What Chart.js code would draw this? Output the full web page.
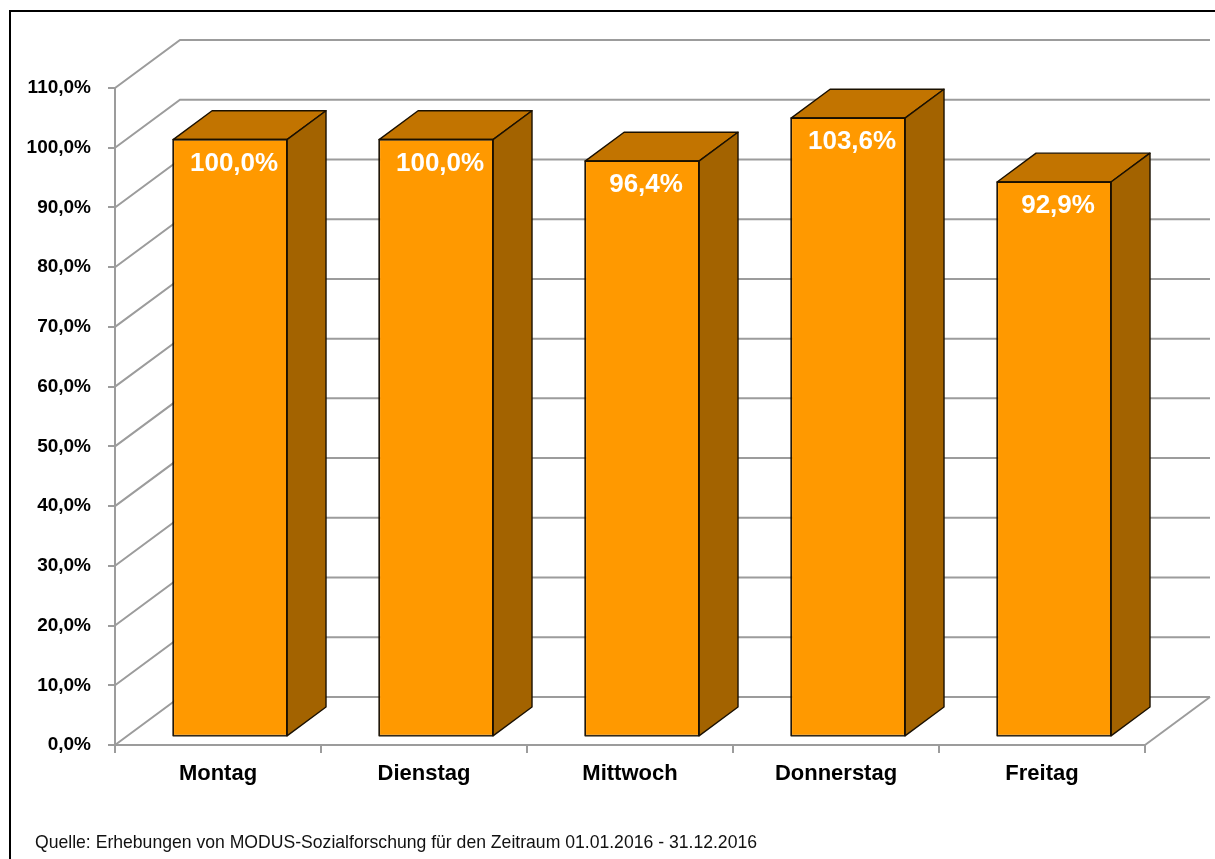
<!DOCTYPE html>
<html>
<head>
<meta charset="utf-8">
<script src="https://cdn.jsdelivr.net/npm/chart.js@4/dist/chart.umd.min.js"></script>
<style>
  html, body { margin: 0; padding: 0; background: #fff; overflow: hidden; }
  #wrap { position: relative; width: 1215px; height: 859px; }
  #frame { position: absolute; left: 9px; top: 10px; width: 1230px; height: 900px; border: 2px solid #000; }
  #chart { position: absolute; left: 0; top: 0; }
  #source { position: absolute; left: 35px; top: 831px; font-family: "Liberation Sans", Arial, sans-serif;
            font-size: 19px; color: #111; white-space: nowrap; transform-origin: 0 0; }
</style>
</head>
<body>
<div id="wrap">
  <div id="frame"></div>
  <canvas id="chart" width="1215" height="859"></canvas>
  <div id="source">Quelle: Erhebungen von MODUS-Sozialforschung für den Zeitraum 01.01.2016 - 31.12.2016</div>
</div>
<script>
// data
var days = ["Montag", "Dienstag", "Mittwoch", "Donnerstag", "Freitag"];
var shares = [100.0, 100.0, 96.4, 103.6, 92.9];
var yMax = 110;
var yStep = 10;

// 3d look
var depthX = 65, depthY = -48;      // wall depth
var barFrom = 0.17, barTo = 0.77;   // bars sit in the middle of the depth
var gridColor = "#9c9c9c";

function pct(v) {
    return v.toFixed(1).replace(".", ",") + "%";
}

// squeeze the footer so it spans like the original
(function () {
    var el = document.getElementById("source");
    var w = el.getBoundingClientRect().width;
    el.style.transform = "scaleX(" + (722 / w) + ")";
})();

var wallPlugin = {
    id: "wall",
    beforeDatasetsDraw: function (chart) {
        var ctx = chart.ctx;
        var yScale = chart.scales.y;
        var area = chart.chartArea;
        ctx.save();
        ctx.strokeStyle = gridColor;
        ctx.lineWidth = 2;
        for (var v = 0; v <= yMax; v += yStep) {
            var y = yScale.getPixelForValue(v);
            ctx.beginPath();
            ctx.moveTo(area.left, y);
            ctx.lineTo(area.left + depthX, y + depthY);
            ctx.lineTo(area.right + depthX, y + depthY);
            ctx.stroke();
        }
        // floor right edge
        var y0 = yScale.getPixelForValue(0);
        ctx.beginPath();
        ctx.moveTo(area.right, y0);
        ctx.lineTo(area.right + depthX, y0 + depthY);
        ctx.stroke();
        ctx.restore();

        // move the bars into the depth
        ctx.save();
        ctx.translate(depthX * barFrom + 1, depthY * barFrom);
    },
    afterDatasetsDraw: function (chart) {
        var ctx = chart.ctx;
        var bx = depthX * (barTo - barFrom), by = depthY * (barTo - barFrom);
        var bars = chart.getDatasetMeta(0).data;
        ctx.lineWidth = 1.4;
        ctx.strokeStyle = "#1a1000";
        ctx.lineJoin = "round";
        for (var i = 0; i < bars.length; i++) {
            var b = bars[i].getProps(["x", "y", "base", "width"], true);
            var l = b.x - b.width / 2, r = b.x + b.width / 2;
            // top
            ctx.beginPath();
            ctx.moveTo(l, b.y);
            ctx.lineTo(l + bx, b.y + by);
            ctx.lineTo(r + bx, b.y + by);
            ctx.lineTo(r, b.y);
            ctx.closePath();
            ctx.fillStyle = "#c27400";
            ctx.fill();
            ctx.stroke();
            // side
            ctx.beginPath();
            ctx.moveTo(r, b.y);
            ctx.lineTo(r + bx, b.y + by);
            ctx.lineTo(r + bx, b.base + by);
            ctx.lineTo(r, b.base);
            ctx.closePath();
            ctx.fillStyle = "#a36300";
            ctx.fill();
            ctx.stroke();
            // front outline again so it stays crisp
            ctx.strokeRect(l, b.y, b.width, b.base - b.y);
            // value label
            ctx.fillStyle = "#ffffff";
            ctx.font = "bold 26px 'Liberation Sans', Arial, sans-serif";
            ctx.textAlign = "center";
            ctx.textBaseline = "alphabetic";
            ctx.fillText(pct(shares[i]), b.x + 4, b.y + 31);
        }
        ctx.restore();
    }
};

new Chart(document.getElementById("chart"), {
    type: "bar",
    data: {
        labels: days,
        datasets: [{
            data: shares,
            backgroundColor: "#ff9900",
            borderColor: "#1a1000",
            borderWidth: 1,
            borderSkipped: false,
            categoryPercentage: 1.0,
            barPercentage: 0.553
        }]
    },
    options: {
        responsive: false,
        animation: false,
        devicePixelRatio: 1,
        layout: { padding: { top: 88, left: 0, right: 70, bottom: 64 } },
        plugins: {
            legend: { display: false },
            tooltip: { enabled: false }
        },
        scales: {
            x: {
                afterFit: function (s) { s.height = 50; },
                grid: {
                    offset: true,
                    drawOnChartArea: false,
                    drawTicks: true,
                    tickLength: 8,
                    color: gridColor,
                    lineWidth: 2
                },
                border: { display: true, color: gridColor, width: 2 },
                ticks: {
                    color: "#000",
                    padding: 8,
                    font: { family: "'Liberation Sans', Arial, sans-serif", size: 22, weight: "bold" }
                }
            },
            y: {
                min: 0,
                max: yMax,
                afterFit: function (s) { s.width = 115; },
                grid: {
                    drawOnChartArea: false,
                    drawTicks: true,
                    tickLength: 7,
                    color: gridColor,
                    lineWidth: 2
                },
                border: { display: true, color: gridColor, width: 2 },
                ticks: {
                    stepSize: yStep,
                    color: "#000",
                    padding: 17,
                    font: { family: "'Liberation Sans', Arial, sans-serif", size: 19, weight: "bold" },
                    callback: function (v) { return pct(v); }
                }
            }
        }
    },
    plugins: [wallPlugin]
});
</script>
</body>
</html>
